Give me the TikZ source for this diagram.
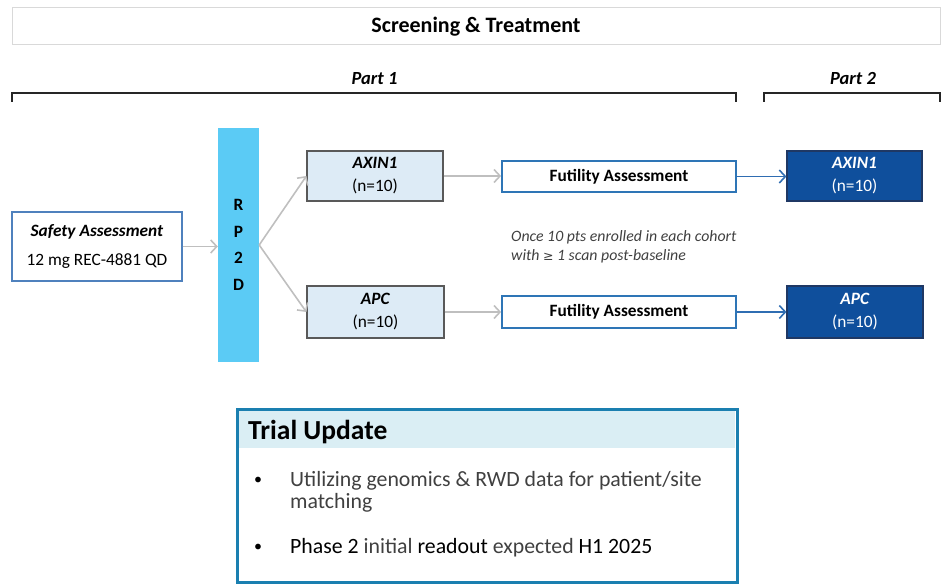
\documentclass[tikz,border=0pt]{standalone}
\usepackage{fontspec}
\setmainfont{Carlito}
\newfontfamily\symfont{DejaVu Sans}
\usetikzlibrary{arrows.meta}
\definecolor{topgray}{HTML}{D9D9D9}
\definecolor{arrgray}{HTML}{BFBFBF}
\definecolor{safeblue}{HTML}{4F81BD}
\definecolor{rpblue}{HTML}{5BCBF5}
\definecolor{lightfill}{HTML}{DDEBF6}
\definecolor{boxgray}{HTML}{595959}
\definecolor{futblue}{HTML}{2E75B6}
\definecolor{arrblue}{HTML}{2F6DB2}
\definecolor{darkfill}{HTML}{0F4F9C}
\definecolor{darkborder}{HTML}{1F3864}
\definecolor{trialborder}{HTML}{1A7FB0}
\definecolor{trialfill}{HTML}{DAEEF4}
\definecolor{textgray}{HTML}{404040}
\begin{document}
\begin{tikzpicture}[x=1pt,y=-1pt,
  box/.style={draw, inner sep=0pt, align=center},
  garrow/.style={draw=arrgray, line width=1.6pt, -{Straight Barb[length=6pt,width=13pt,line width=1.6pt]}},
  barrow/.style={draw=arrblue, line width=1.6pt, -{Straight Barb[length=6pt,width=13pt,line width=1.6pt]}},
  bracket/.style={draw=black!85, line width=1.2pt},
  midfont/.style={font=\fontsize{17.3}{23}\selectfont},
  lightbox/.style={box, draw=boxgray, fill=lightfill, line width=1.2pt, midfont},
  darkbox/.style={box, draw=darkborder, fill=darkfill, line width=1.2pt, text=white, midfont},
  futbox/.style={box, draw=futblue, fill=white, line width=1.8pt, font=\fontsize{17.3}{20}\selectfont\bfseries},
  partlabel/.style={font=\fontsize{18.5}{22}\selectfont\bfseries\itshape},
  bullettext/.style={anchor=west, inner sep=0pt, text=textgray, font=\fontsize{21.8}{22}\selectfont},
  bulletdot/.style={anchor=center, inner sep=0pt, font=\fontsize{16}{18}\selectfont}
]
\useasboundingbox (0,0) rectangle (948,585);

% top banner
\node[box, draw=topgray, line width=1pt, minimum width=928, minimum height=37,
      font=\fontsize{22}{26}\selectfont\bfseries] (top) at (476,26.5) {Screening \& Treatment};

% part labels and brackets
\node[partlabel] (p1) at (374.5,79) {Part 1};
\node[partlabel] (p2) at (853,79) {Part 2};
\draw[bracket] (12,102) -- (12,93) -- (736,93) -- (736,102);
\draw[bracket] (764,102) -- (764,93) -- (940,93) -- (940,102);

% safety
\node[box, draw=safeblue, fill=white, line width=1.2pt, minimum width=170, minimum height=69,
      font=\fontsize{17.3}{28.5}\selectfont] (safe) at (97,246.5)
      {\textbf{\textit{Safety Assessment}}\\12 mg REC-4881 QD};

% RP2D
\node[box, draw=none, fill=rpblue, minimum width=41, minimum height=234,
      font=\fontsize{17.3}{26.7}\selectfont\bfseries] (rp) at (238.5,245) {R\\P\\2\\D};

% cohorts
\node[lightbox, minimum width=136, minimum height=50] (axin) at (375,176) {\textbf{\textit{AXIN1}}\\(n=10)};
\node[lightbox, minimum width=137, minimum height=52] (apc) at (375.5,312) {\textbf{\textit{APC}}\\(n=10)};

% futility
\node[futbox, minimum width=234, minimum height=31] (fut1) at (619,176.5) {Futility Assessment};
\node[futbox, minimum width=234, minimum height=32] (fut2) at (619,312) {Futility Assessment};

% part 2
\node[darkbox, minimum width=135, minimum height=50] (d1) at (854.5,176) {\textbf{\textit{AXIN1}}\\(n=10)};
\node[darkbox, minimum width=136, minimum height=52] (d2) at (855,312) {\textbf{\textit{APC}}\\(n=10)};

% note
\node[anchor=west, inner sep=0pt, align=left, text=textgray,
      font=\fontsize{15.8}{19}\selectfont\itshape] (note) at (511,246.5)
      {Once 10 pts enrolled in each cohort\\with {\symfont\upshape\fontsize{12.5}{19}\selectfont ≥} 1 scan post-baseline};

% connectors
\draw[garrow] (safe.east) -- (rp.west |- safe.east);
\draw[garrow] (rp.east) -- (axin.west);
\draw[garrow] (rp.east) -- (apc.west);
\draw[garrow] (axin.east) -- (fut1.west |- axin.east);
\draw[garrow] (apc.east) -- (fut2.west |- apc.east);
\draw[barrow] (fut1.east) -- (d1.west |- fut1.east);
\draw[barrow] (fut2.east) -- (d2.west |- fut2.east);

% trial update
\fill[trialfill] (239,411) rectangle (735,448);
\node[draw=trialborder, line width=3pt, inner sep=0pt, minimum width=500, minimum height=173] (trial) at (487,495.5) {};
\node[anchor=west, inner sep=0pt, font=\fontsize{27.5}{30}\selectfont\bfseries] (tt) at (248,432) {Trial Update};
\node[bulletdot] (b1) at (258,481) {•};
\node[bulletdot] (b2) at (258,548) {•};
\node[bullettext] (l1) at (290,481) {Utilizing genomics \& RWD data for patient/site};
\node[bullettext] (l2) at (290,503) {matching};
\node[bullettext] (l3) at (290,548) {\textcolor{black}{Phase 2} initial \textcolor{black}{readout} expected \textcolor{black}{H1 2025}};
\end{tikzpicture}
\end{document}
